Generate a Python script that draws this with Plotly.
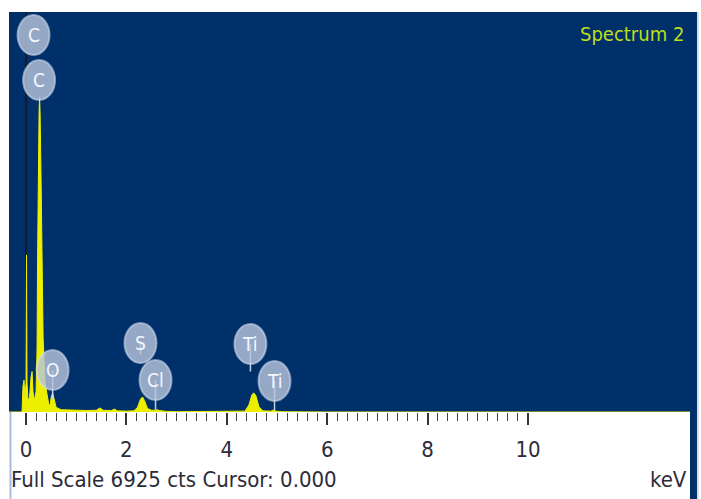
import plotly.graph_objects as go

# EDS spectrum: energy (keV) vs counts
energy_kev = [-0.34, -0.08, -0.06, -0.04, -0.02, 0.00, 0.01, 0.02, 0.04, 0.07,
              0.10, 0.12, 0.14, 0.17, 0.20, 0.22, 0.23, 0.24, 0.26, 0.27,
              0.28, 0.30, 0.32, 0.34, 0.38, 0.45, 0.48, 0.50, 0.53, 0.56,
              0.60, 0.70, 0.90, 1.20, 1.40, 1.47, 1.54, 1.70, 1.76, 1.82,
              2.00, 2.15, 2.22, 2.28, 2.32, 2.36, 2.42, 2.50, 2.58, 2.62,
              2.66, 2.80, 3.00, 4.00, 4.36, 4.44, 4.50, 4.54, 4.58, 4.64,
              4.72, 4.88, 4.93, 4.98, 5.10, 6.00, 13.3]
counts = [0, 0, 450, 550, 250, 500, 2720, 500, 200, 250,
          600, 700, 350, 200, 350, 1100, 2600, 4000, 5200, 5450,
          5200, 4000, 2600, 1300, 500, 150, 100, 250, 330, 240,
          80, 40, 30, 25, 30, 70, 30, 25, 50, 20,
          15, 20, 80, 220, 260, 200, 60, 30, 30, 40,
          25, 10, 5, 5, 15, 120, 300, 330, 280, 90,
          20, 15, 35, 15, 5, 0, 0]

full_scale = 6925
cursor_kev = 0.000

# Peak identification labels
label_names = ["C", "C", "O", "S", "Cl", "Ti", "Ti"]
label_kev = [0.15, 0.26, 0.53, 2.28, 2.58, 4.47, 4.95]
label_cts = [6526, 5747, 727, 1194, 554, 1177, 537]
stem_end_cts = [6526, 5747, 220, 1000, 35, 700, 35]

tick_kev = [0, 2, 4, 6, 8, 10]
tick_text = ["0", "2", "4", "6", "8", "10"]
minor_kev = [round(0.2 * i, 1) for i in range(51) if i % 10]

NAVY = "#00306a"
YELLOW = "#ecf000"
NARROW = "Liberation Sans Narrow, Arial Narrow, DejaVu Sans Condensed, sans-serif"

fig = go.Figure()

# cursor marker
fig.add_trace(go.Scatter(
    x=[cursor_kev, cursor_kev], y=[0, full_scale], mode="lines",
    line=dict(color="#151a2c", width=2), hoverinfo="skip", showlegend=False))

# spectrum
fig.add_trace(go.Scatter(
    x=energy_kev, y=counts, mode="lines", fill="tozeroy",
    fillcolor=YELLOW, line=dict(color=YELLOW, width=1),
    hoverinfo="skip", showlegend=False))

# label stems
for e, top, bot in zip(label_kev, label_cts, stem_end_cts):
    fig.add_trace(go.Scatter(
        x=[e, e], y=[top, bot], mode="lines",
        line=dict(color="rgba(205,214,230,0.95)", width=1.5),
        hoverinfo="skip", showlegend=False))

# label bubbles
for name, e, c in zip(label_names, label_kev, label_cts):
    fig.add_shape(
        type="circle", xref="x", yref="y", layer="above",
        xsizemode="pixel", ysizemode="pixel", xanchor=e, yanchor=c,
        x0=-16, x1=16, y0=-20, y1=20,
        fillcolor="rgba(182,195,218,0.82)",
        line=dict(color="rgba(215,225,240,0.55)", width=2))
    fig.add_annotation(
        x=e, y=c, xref="x", yref="y", text=name, showarrow=False,
        font=dict(family=NARROW, size=19, color="#f4f7fd"))

# frame decorations
fig.add_shape(type="rect", xref="paper", yref="paper", layer="below",
              x0=1.0, x1=1.0 + 7 / 681, y0=-87 / 400, y1=1.0,
              fillcolor=NAVY, line=dict(width=0))
fig.add_shape(type="line", xref="paper", yref="paper",
              x0=1.0 + 8 / 681, x1=1.0 + 8 / 681, y0=-87 / 400, y1=1.0,
              line=dict(color="#b8bcc4", width=1))
fig.add_shape(type="line", xref="paper", yref="paper",
              x0=1.5 / 681, x1=1.5 / 681, y0=-87 / 400, y1=0,
              line=dict(color="#a8bcd8", width=2))

fig.add_annotation(x=1.0, y=1.0, xref="paper", yref="paper",
                   xanchor="right", yanchor="top", xshift=-4, yshift=-8,
                   text="Spectrum 2", showarrow=False,
                   font=dict(family=NARROW, size=20, color="#bede1a"))
fig.add_annotation(x=0, y=0, xref="paper", yref="paper",
                   xanchor="left", yanchor="middle", xshift=0, yshift=-67,
                   text=f"Full Scale {full_scale} cts Cursor: {cursor_kev:.3f}",
                   showarrow=False,
                   font=dict(family=NARROW, size=22, color="#2c2c38"))
fig.add_annotation(x=1.0, y=0, xref="paper", yref="paper",
                   xanchor="right", yanchor="middle", xshift=-1, yshift=-67,
                   text="keV", showarrow=False,
                   font=dict(family=NARROW, size=22, color="#2c2c38"))

fig.update_layout(
    width=701, height=499,
    margin=dict(l=9, r=11, t=12, b=87),
    paper_bgcolor="white", plot_bgcolor=NAVY,
    showlegend=False,
    xaxis=dict(range=[-0.339, 13.227], showgrid=False, zeroline=False,
               showline=False, tickmode="array", tickvals=tick_kev,
               ticktext=tick_text, ticks="outside", ticklen=12,
               tickwidth=1.5, tickcolor="#333333", ticklabelstandoff=6,
               tickfont=dict(family=NARROW, size=22, color="#2c2c3c"),
               minor=dict(tickmode="array", tickvals=minor_kev,
                          ticks="outside", ticklen=8, tickwidth=1.3,
                          tickcolor="#444444")),
    yaxis=dict(range=[0, full_scale], showgrid=False, zeroline=False,
               showline=False, showticklabels=False, ticks=""),
)

fig.write_html("out.html")
